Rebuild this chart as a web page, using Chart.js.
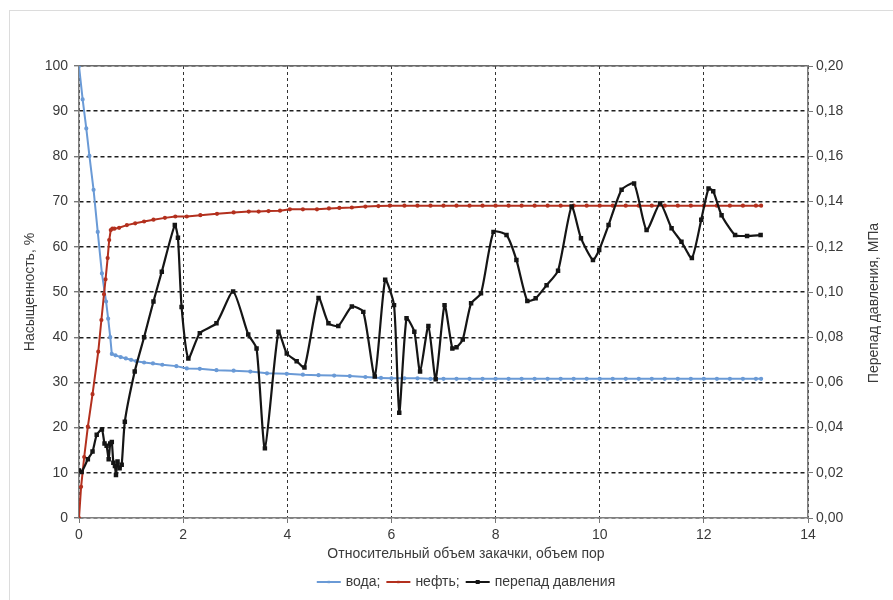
<!DOCTYPE html>
<html>
<head>
<meta charset="utf-8">
<script src="https://cdn.jsdelivr.net/npm/chart.js@4"></script>
<style>
    body { margin: 0; background: #fff; }
    #frame { position: absolute; left: 9px; top: 10px; width: 884px; height: 590px;
             border-left: 1px solid #dcdcdc; border-top: 1px solid #dcdcdc; }
    #wrap { position: absolute; left: 0; top: 0; width: 893px; height: 600px; }
</style>
</head>
<body>
<div id="frame"></div>
<div id="wrap"><canvas id="chart" width="893" height="600"></canvas></div>
<script>
// Данные
const waterX = [0, 0.07, 0.14, 0.2, 0.28, 0.36, 0.44, 0.52, 0.56, 0.6,
    0.63, 0.7, 0.8, 0.9, 1.0, 1.1, 1.25, 1.42, 1.6, 1.87,
    2.07, 2.32, 2.64, 2.97, 3.29, 3.61, 3.99, 4.3, 4.6, 4.9,
    5.2, 5.5, 5.8, 6.0, 6.25, 6.5, 6.75, 7.0, 7.25, 7.5,
    7.75, 8.0, 8.25, 8.5, 8.75, 9.0, 9.25, 9.5, 9.75, 10.0,
    10.25, 10.5, 10.75, 11.0, 11.25, 11.5, 11.75, 12.0, 12.25, 12.5,
    12.75, 13.0, 13.1];
const waterY = [100, 92.6, 86.2, 80.1, 72.6, 63.3, 54.1, 47.9, 44.1, 40.0,
    36.3, 36.0, 35.6, 35.3, 35.0, 34.7, 34.4, 34.2, 33.9, 33.6,
    33.1, 33.0, 32.7, 32.6, 32.4, 32.0, 31.9, 31.7, 31.6, 31.5,
    31.4, 31.2, 31.0, 30.9, 30.9, 30.9, 30.8, 30.8, 30.8, 30.8,
    30.8, 30.8, 30.8, 30.8, 30.8, 30.8, 30.8, 30.8, 30.8, 30.8,
    30.8, 30.8, 30.8, 30.8, 30.8, 30.8, 30.8, 30.8, 30.8, 30.8,
    30.8, 30.8, 30.8];

const oilX = [0, 0.04, 0.1, 0.17, 0.26, 0.37, 0.43, 0.48, 0.51, 0.55,
    0.58, 0.61, 0.64, 0.68, 0.77, 0.92, 1.08, 1.25, 1.43, 1.65,
    1.85, 2.07, 2.33, 2.65, 2.97, 3.26, 3.45, 3.64, 3.86, 4.05,
    4.3, 4.57, 4.8, 5.0, 5.24, 5.5, 5.75, 5.97, 6.25, 6.5,
    6.75, 7.0, 7.25, 7.5, 7.75, 8.0, 8.25, 8.5, 8.75, 9.0,
    9.25, 9.5, 9.75, 10.0, 10.25, 10.5, 10.75, 11.0, 11.25, 11.5,
    11.75, 12.0, 12.25, 12.5, 12.75, 13.0, 13.1];
const oilY = [0, 6.9, 13.5, 20.2, 27.4, 36.8, 43.8, 49.5, 52.8, 57.5,
    61.5, 63.7, 64.0, 64.0, 64.2, 64.8, 65.2, 65.6, 66.0, 66.4,
    66.7, 66.7, 67.0, 67.3, 67.6, 67.8, 67.8, 67.9, 68.0, 68.3,
    68.3, 68.3, 68.5, 68.6, 68.7, 68.9, 69.0, 69.1, 69.1, 69.1,
    69.1, 69.1, 69.1, 69.1, 69.1, 69.1, 69.1, 69.1, 69.1, 69.1,
    69.1, 69.1, 69.1, 69.1, 69.1, 69.1, 69.1, 69.1, 69.1, 69.1,
    69.1, 69.1, 69.1, 69.1, 69.1, 69.1, 69.1];

// перепад давления, МПа
const dpX = [0, 0.05, 0.17, 0.26, 0.34, 0.44, 0.49, 0.53, 0.57, 0.6,
    0.63, 0.66, 0.69, 0.71, 0.74, 0.78, 0.82, 0.88, 1.07, 1.25,
    1.43, 1.59, 1.84, 1.9, 1.97, 2.1, 2.32, 2.64, 2.96, 3.25,
    3.41, 3.57, 3.83, 3.99, 4.18, 4.33, 4.6, 4.79, 4.98, 5.24,
    5.46, 5.68, 5.88, 6.05, 6.15, 6.29, 6.44, 6.55, 6.71, 6.85,
    7.02, 7.17, 7.25, 7.37, 7.53, 7.72, 7.96, 8.21, 8.4, 8.61,
    8.77, 8.98, 9.2, 9.46, 9.64, 9.87, 9.99, 10.17, 10.42, 10.66,
    10.9, 11.16, 11.38, 11.57, 11.77, 11.95, 12.09, 12.18, 12.34, 12.6,
    12.83, 13.09];
const dpY = [0.021, 0.0204, 0.026, 0.0294, 0.0368, 0.0392, 0.033, 0.032, 0.026, 0.033,
    0.0336, 0.0244, 0.023, 0.019, 0.025, 0.022, 0.0236, 0.0426, 0.0648, 0.08,
    0.0958, 0.109, 0.1296, 0.124, 0.0934, 0.0706, 0.0818, 0.0862, 0.1002, 0.0812,
    0.075, 0.0308, 0.0824, 0.0728, 0.0694, 0.0666, 0.0974, 0.0862, 0.085, 0.0936,
    0.0912, 0.0626, 0.1054, 0.0942, 0.0466, 0.0884, 0.0824, 0.0648, 0.085, 0.0614,
    0.0942, 0.075, 0.0756, 0.079, 0.095, 0.0994, 0.1266, 0.1252, 0.1142, 0.096,
    0.0972, 0.103, 0.1094, 0.1378, 0.1238, 0.1142, 0.1186, 0.1296, 0.1452, 0.148,
    0.1274, 0.1392, 0.1282, 0.1222, 0.115, 0.132, 0.1458, 0.1446, 0.134, 0.1252,
    0.1248, 0.1252];

const seriesNames = ['вода;', 'нефть;', 'перепад давления'];
const seriesColors = ['#6a9ad6', '#b3301e', '#151515'];

const xTitle = 'Относительный объем закачки, объем пор';
const yTitle = 'Насыщенность, %';
const y1Title = 'Перепад давления, МПа';

const FONT = '"Liberation Sans", Arial, sans-serif';
const TEXT = '#3a3a3a';

const toPoints = (xs, ys) => xs.map((x, i) => ({ x: x, y: ys[i] }));

// Подписи осей и легенда
const labelsPlugin = {
    id: 'labels',
    afterDraw(chart) {
        const ctx = chart.ctx;
        const area = chart.chartArea;
        ctx.save();
        ctx.fillStyle = TEXT;
        ctx.font = '14px ' + FONT;
        ctx.textAlign = 'center';
        ctx.textBaseline = 'middle';

        ctx.fillText(xTitle, 466, 554);

        ctx.save();
        ctx.translate(30, (area.top + area.bottom) / 2);
        ctx.rotate(-Math.PI / 2);
        ctx.fillText(yTitle, 0, 0);
        ctx.restore();

        ctx.save();
        ctx.translate(874, 303);
        ctx.rotate(-Math.PI / 2);
        ctx.fillText(y1Title, 0, 0);
        ctx.restore();

        // легенда
        const sample = 24, gap = 5, between = 6;
        const widths = seriesNames.map(n => ctx.measureText(n).width);
        const total = widths.reduce((a, w) => a + sample + gap + w, 0) + between * (seriesNames.length - 1);
        let x = 466 - total / 2;
        const y = 582;
        ctx.textAlign = 'left';
        seriesNames.forEach((name, i) => {
            ctx.strokeStyle = seriesColors[i];
            ctx.lineWidth = 2;
            ctx.beginPath();
            ctx.moveTo(x, y);
            ctx.lineTo(x + sample, y);
            ctx.stroke();
            ctx.fillStyle = seriesColors[i];
            const r = i === 2 ? 2 : 1.2;
            ctx.fillRect(x + sample / 2 - r, y - r, r * 2, r * 2);
            ctx.fillStyle = TEXT;
            ctx.fillText(name, x + sample + gap, y);
            x += sample + gap + widths[i] + between;
        });
        ctx.restore();
    }
};

new Chart(document.getElementById('chart'), {
    type: 'scatter',
    data: {
        datasets: [
            {
                label: seriesNames[2],
                data: toPoints(dpX, dpY),
                yAxisID: 'y1',
                showLine: true,
                borderColor: seriesColors[2],
                backgroundColor: seriesColors[2],
                borderWidth: 2.2,
                tension: 0.2,
                pointStyle: 'rect',
                pointRadius: 1.6,
                order: 0
            },
            {
                label: seriesNames[1],
                data: toPoints(oilX, oilY),
                yAxisID: 'y',
                showLine: true,
                borderColor: seriesColors[1],
                backgroundColor: seriesColors[1],
                borderWidth: 2,
                pointRadius: 1.1,
                order: 1
            },
            {
                label: seriesNames[0],
                data: toPoints(waterX, waterY),
                yAxisID: 'y',
                showLine: true,
                borderColor: seriesColors[0],
                backgroundColor: seriesColors[0],
                borderWidth: 2,
                pointRadius: 1.1,
                order: 2
            }
        ]
    },
    options: {
        responsive: false,
        animation: false,
        layout: { padding: { top: 66, left: 0, right: 0, bottom: 0 } },
        plugins: {
            legend: { display: false },
            tooltip: { enabled: false }
        },
        scales: {
            x: {
                type: 'linear',
                min: 0,
                max: 14,
                afterFit: s => { s.height = 82; },
                ticks: { stepSize: 2, color: TEXT, font: { size: 14, family: FONT }, padding: 4 },
                grid: { color: '#333', lineWidth: 1, tickColor: '#777', tickLength: 5 },
                border: { color: '#808080', width: 1.5, dash: [3, 3] }
            },
            xTop: {
                type: 'linear',
                position: 'top',
                min: 0,
                max: 14,
                afterFit: s => { s.height = 0; },
                ticks: { display: false },
                grid: { drawOnChartArea: false, drawTicks: false },
                border: { color: '#6a6a6a', width: 1.5 }
            },
            y: {
                min: 0,
                max: 100,
                afterFit: s => { s.width = 79; },
                ticks: { stepSize: 10, color: TEXT, font: { size: 14, family: FONT }, padding: 6 },
                grid: { color: '#1e1e1e', lineWidth: 1.4, tickColor: '#777', tickLength: 5 },
                border: { color: '#808080', width: 1.5, dash: [4, 3] }
            },
            y1: {
                position: 'right',
                min: 0,
                max: 0.2,
                afterFit: s => { s.width = 85; },
                ticks: {
                    stepSize: 0.02,
                    color: TEXT,
                    font: { size: 14, family: FONT },
                    padding: 3,
                    callback: v => v.toFixed(2).replace('.', ',')
                },
                grid: { drawOnChartArea: false, tickColor: '#777', tickLength: 5 },
                border: { color: '#808080', width: 1.5 }
            }
        }
    },
    plugins: [labelsPlugin]
});
</script>
</body>
</html>
